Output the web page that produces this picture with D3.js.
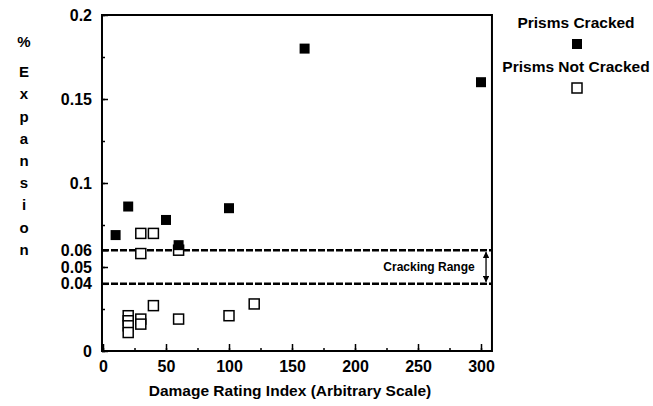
<!DOCTYPE html>
<html>
<head>
<meta charset="utf-8">
<script src="https://cdn.jsdelivr.net/npm/d3@7"></script>
<style>
  body { margin: 0; background: #fff; }
  svg text { font-family: "Liberation Sans", Arial, Helvetica, sans-serif; font-weight: bold; fill: #000; }
</style>
</head>
<body>
<svg id="chart" width="653" height="406"></svg>
<script>
// data
var seriesNames = ["Prisms Cracked", "Prisms Not Cracked"];
var crackedX = [10, 20, 50, 60, 100, 160, 300];
var crackedY = [0.069, 0.086, 0.078, 0.063, 0.085, 0.180, 0.160];
var notCrackedX = [20, 20, 20, 20, 30, 30, 30, 30, 40, 40, 60, 60, 100, 120];
var notCrackedY = [0.021, 0.018, 0.015, 0.011, 0.019, 0.016, 0.070, 0.058, 0.070, 0.027, 0.060, 0.019, 0.021, 0.028];
var crackingRange = [0.04, 0.06];
var xTicks = [0, 50, 100, 150, 200, 250, 300];
var yTicks = [0, 0.04, 0.05, 0.06, 0.1, 0.15, 0.2];
var yTickText = ["0", "0.04", "0.05", "0.06", "0.1", "0.15", "0.2"];
var yTitle = ["%", "E", "x", "p", "a", "n", "s", "i", "o", "n"];
var xTitle = "Damage Rating Index (Arbitrary Scale)";
var rangeLabel = "Cracking Range";

var svg = d3.select("#chart");

var x = d3.scaleLinear().domain([0, 300]).range([103, 481]);
var y = d3.scaleLinear().domain([0, 0.2]).range([351, 15]);

// frame edges (window.top is taken, hence the names)
var frameL = x(-0.8), frameR = x(308.7), frameT = y(0.2), frameB = y(0);

// minor ticks first, then labelled ones
svg.append("g")
    .attr("transform", "translate(0," + frameB + ")")
    .call(d3.axisBottom(x).tickValues(d3.range(0, 301, 25)).tickSize(-3).tickFormat(""))
    .call(function(g) { g.select(".domain").remove(); });

svg.append("g")
    .attr("transform", "translate(0," + frameB + ")")
    .call(d3.axisBottom(x).tickValues(xTicks).tickSize(-7).tickPadding(10).tickFormat(d3.format("d")))
    .call(function(g) { g.select(".domain").remove(); })
    .selectAll("text")
    .style("font-size", "16px");

svg.append("g")
    .attr("transform", "translate(" + frameL + ",0)")
    .call(d3.axisLeft(y).tickValues(d3.range(0, 0.2001, 0.025)).tickSize(-3).tickFormat(""))
    .call(function(g) { g.select(".domain").remove(); });

svg.append("g")
    .attr("transform", "translate(" + frameL + ",0)")
    .call(d3.axisLeft(y).tickValues(yTicks).tickSize(-6).tickPadding(10)
        .tickFormat(function(d, i) { return yTickText[i]; }))
    .call(function(g) { g.select(".domain").remove(); })
    .selectAll("text")
    .style("font-size", "16px");

svg.selectAll(".tick line").attr("stroke", "#000").attr("stroke-width", 1.5);

// plot frame
svg.append("rect")
    .attr("x", frameL)
    .attr("y", frameT)
    .attr("width", frameR - frameL)
    .attr("height", frameB - frameT)
    .attr("fill", "none")
    .attr("stroke", "#000")
    .attr("stroke-width", 2);

// cracking range dashed lines
svg.selectAll(".range-line")
    .data(crackingRange)
    .enter().append("line")
    .attr("class", "range-line")
    .attr("x1", frameL)
    .attr("x2", frameR)
    .attr("y1", function(d) { return y(d); })
    .attr("y2", function(d) { return y(d); })
    .attr("stroke", "#000")
    .attr("stroke-width", 2.5)
    .attr("stroke-dasharray", "7,2");

svg.append("defs").append("marker")
    .attr("id", "head")
    .attr("viewBox", "0 0 10 10")
    .attr("refX", 9).attr("refY", 5)
    .attr("markerWidth", 5).attr("markerHeight", 5)
    .attr("orient", "auto-start-reverse")
    .append("path")
    .attr("d", "M0,0L10,5L0,10z")
    .attr("fill", "#000");

svg.append("line")
    .attr("x1", x(304)).attr("x2", x(304))
    .attr("y1", y(crackingRange[1]) + 2)
    .attr("y2", y(crackingRange[0]) - 2)
    .attr("stroke", "#000")
    .attr("stroke-width", 1.3)
    .attr("marker-start", "url(#head)")
    .attr("marker-end", "url(#head)");

svg.append("text")
    .attr("x", x(295))
    .attr("y", y(d3.mean(crackingRange)))
    .attr("dy", "0.35em")
    .attr("text-anchor", "end")
    .style("font-size", "12px")
    .text(rangeLabel);

// points: open squares under filled ones
var size = 10;
svg.selectAll(".open")
    .data(d3.zip(notCrackedX, notCrackedY))
    .enter().append("rect")
    .attr("class", "open")
    .attr("x", function(d) { return x(d[0]) - size / 2; })
    .attr("y", function(d) { return y(d[1]) - size / 2; })
    .attr("width", size)
    .attr("height", size)
    .attr("fill", "#fff")
    .attr("stroke", "#000")
    .attr("stroke-width", 1.5);

svg.selectAll(".filled")
    .data(d3.zip(crackedX, crackedY))
    .enter().append("rect")
    .attr("class", "filled")
    .attr("x", function(d) { return x(d[0]) - size / 2; })
    .attr("y", function(d) { return y(d[1]) - size / 2; })
    .attr("width", size)
    .attr("height", size)
    .attr("fill", "#000");

// axis titles
svg.append("text")
    .attr("x", 290)
    .attr("y", 396)
    .attr("text-anchor", "middle")
    .style("font-size", "15.5px")
    .text(xTitle);

svg.selectAll(".ytitle")
    .data(yTitle)
    .enter().append("text")
    .attr("class", "ytitle")
    .attr("x", 24)
    .attr("y", function(d, i) { return i == 0 ? 42 : 72 + (i - 1) * 22.2; })
    .attr("dy", "0.35em")
    .attr("text-anchor", "middle")
    .style("font-size", "15px")
    .text(function(d) { return d; });

// legend
var legend = svg.selectAll(".legend")
    .data(seriesNames)
    .enter().append("g")
    .attr("class", "legend")
    .attr("transform", function(d, i) { return "translate(576," + (28 + i * 44) + ")"; });

legend.append("text")
    .attr("text-anchor", "middle")
    .style("font-size", "15.5px")
    .text(function(d) { return d; });

legend.append("rect")
    .attr("x", -4)
    .attr("y", 11)
    .attr("width", size)
    .attr("height", size)
    .attr("fill", function(d, i) { return i == 0 ? "#000" : "#fff"; })
    .attr("stroke", "#000")
    .attr("stroke-width", function(d, i) { return i == 0 ? 0 : 1.5; });
</script>
</body>
</html>
